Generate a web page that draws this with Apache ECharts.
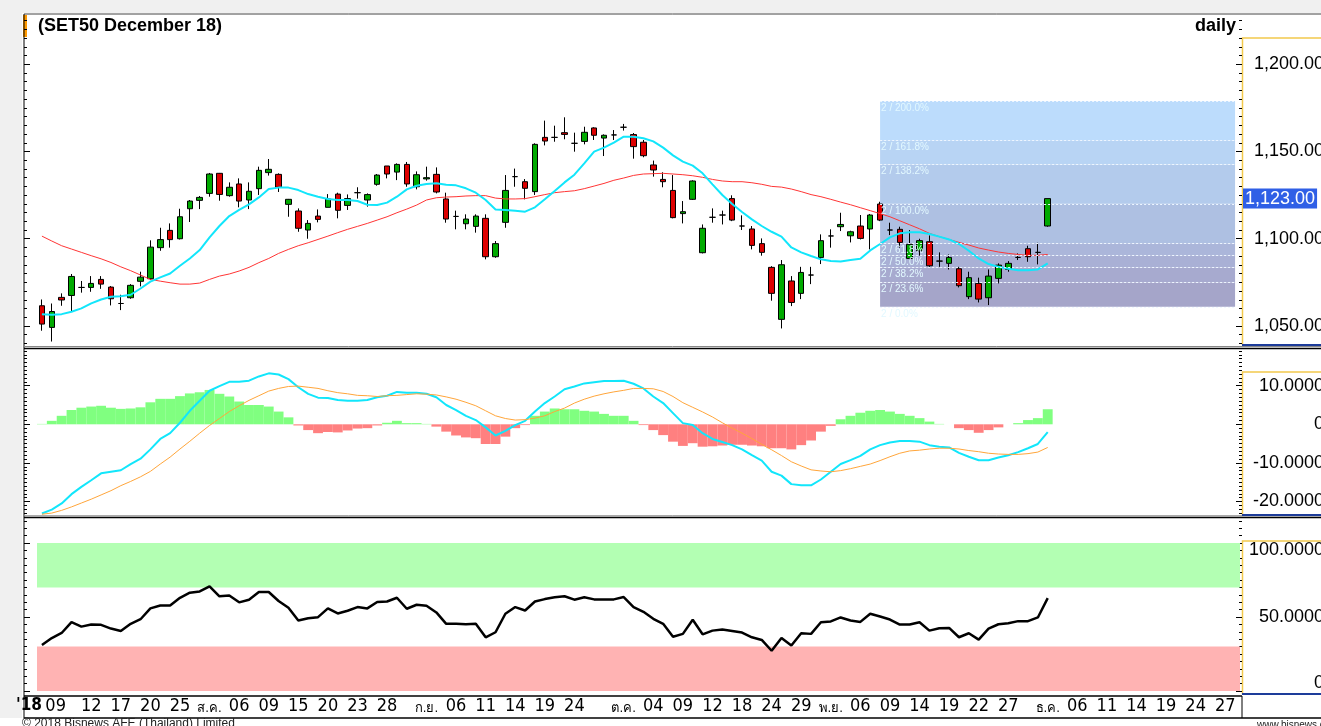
<!DOCTYPE html>
<html>
<head>
<meta charset="utf-8">
<title>SET50 December 18 - daily</title>
<script src="https://cdn.jsdelivr.net/npm/echarts@6/dist/echarts.min.js"></script>
<style>
  html, body { margin: 0; padding: 0; background: #fff; }
  #chart { width: 1321px; height: 726px; }
</style>
</head>
<body>
<div id="chart"></div>
<script>
// trading days shown on the axis (last 19 are empty future slots)
var dates = [
  '2018-07-05','2018-07-06','2018-07-09','2018-07-10','2018-07-11','2018-07-12','2018-07-13','2018-07-16','2018-07-17','2018-07-18',
  '2018-07-19','2018-07-20','2018-07-23','2018-07-24','2018-07-25','2018-07-26','2018-07-31','2018-08-01','2018-08-02','2018-08-03',
  '2018-08-06','2018-08-07','2018-08-08','2018-08-09','2018-08-10','2018-08-14','2018-08-15','2018-08-16','2018-08-17','2018-08-20',
  '2018-08-21','2018-08-22','2018-08-23','2018-08-24','2018-08-27','2018-08-28','2018-08-29','2018-08-30','2018-08-31','2018-09-03',
  '2018-09-04','2018-09-05','2018-09-06','2018-09-07','2018-09-10','2018-09-11','2018-09-12','2018-09-13','2018-09-14','2018-09-17',
  '2018-09-18','2018-09-19','2018-09-20','2018-09-21','2018-09-24','2018-09-25','2018-09-26','2018-09-27','2018-09-28','2018-10-01',
  '2018-10-02','2018-10-03','2018-10-04','2018-10-05','2018-10-08','2018-10-09','2018-10-10','2018-10-11','2018-10-12','2018-10-16',
  '2018-10-17','2018-10-18','2018-10-19','2018-10-22','2018-10-24','2018-10-25','2018-10-26','2018-10-29','2018-10-30','2018-10-31',
  '2018-11-01','2018-11-02','2018-11-05','2018-11-06','2018-11-07','2018-11-08','2018-11-09','2018-11-12','2018-11-13','2018-11-14',
  '2018-11-15','2018-11-16','2018-11-19','2018-11-20','2018-11-21','2018-11-22','2018-11-23','2018-11-26','2018-11-27','2018-11-28',
  '2018-11-29','2018-11-30','2018-12-03','2018-12-04','2018-12-05','2018-12-06','2018-12-07','2018-12-10','2018-12-11','2018-12-12',
  '2018-12-13','2018-12-14','2018-12-17','2018-12-18','2018-12-19','2018-12-20','2018-12-21','2018-12-24','2018-12-25','2018-12-26',
  '2018-12-27','2018-12-28'
];

var tickDates = ['2018-07-05','2018-07-09','2018-07-12','2018-07-17','2018-07-20','2018-07-25','2018-08-01','2018-08-06','2018-08-09','2018-08-15',
  '2018-08-20','2018-08-23','2018-08-28','2018-09-03','2018-09-06','2018-09-11','2018-09-14','2018-09-19','2018-09-24','2018-10-01',
  '2018-10-04','2018-10-09','2018-10-12','2018-10-18','2018-10-24','2018-10-29','2018-11-01','2018-11-06','2018-11-09','2018-11-14',
  '2018-11-19','2018-11-22','2018-11-27','2018-12-03','2018-12-06','2018-12-11','2018-12-14','2018-12-19','2018-12-24','2018-12-27'];
var tickTexts = ["'18",'09','12','17','20','25','ส.ค.','06','09','15',
  '20','23','28','ก.ย.','06','11','14','19','24','ต.ค.',
  '04','09','12','18','24','29','พ.ย.','06','09','14',
  '19','22','27','ธ.ค.','06','11','14','19','24','27'];

// [open, close, low, high]
var ohlc = [
  [1061.6,1051.1,1047.3,1065.2],[1049.2,1058.3,1041.1,1062.9],[1066.4,1064.9,1061.6,1068.7],[1067.5,1078.4,1058.2,1079.8],[1072.1,1072.1,1069.1,1075.8],
  [1072.1,1074.4,1069.6,1078.6],[1076.7,1074.0,1071.3,1078.6],[1072.3,1065.6,1061.8,1072.9],[1062.9,1062.9,1059.1,1067.9],[1066.2,1073.3,1065.6,1074.0],
  [1075.6,1078.0,1072.7,1081.1],[1077.1,1095.2,1076.3,1099.1],[1094.9,1099.5,1093.1,1106.3],[1104.8,1099.5,1094.9,1108.8],[1100.0,1112.6,1099.6,1117.2],
  [1117.2,1121.6,1109.6,1122.2],[1122.0,1123.7,1117.0,1124.5],[1126.0,1137.1,1124.1,1137.7],[1137.5,1125.4,1121.8,1137.7],[1124.7,1129.5,1124.1,1132.3],
  [1131.4,1121.6,1118.0,1134.6],[1122.2,1127.2,1117.0,1132.3],[1128.7,1139.2,1125.1,1141.3],[1137.9,1139.8,1136.2,1145.7],[1136.9,1129.5,1126.8,1137.5],
  [1119.7,1122.6,1112.6,1122.8],[1115.9,1106.0,1104.0,1117.4],[1105.0,1108.8,1100.0,1110.7],[1113.0,1111.1,1109.4,1116.8],[1118.0,1122.8,1118.0,1125.6],
  [1125.6,1116.3,1111.7,1126.4],[1119.1,1123.0,1116.5,1125.4],[1126.4,1126.4,1123.0,1129.5],[1122.2,1125.3,1118.4,1126.0],[1131.2,1136.5,1130.4,1137.1],
  [1141.7,1137.1,1134.6,1141.7],[1138.2,1142.6,1133.6,1143.2],[1142.6,1131.4,1129.8,1144.0],[1129.8,1136.7,1128.3,1138.6],[1134.3,1135.0,1133.3,1141.3],
  [1136.9,1126.8,1126.0,1140.9],[1122.8,1111.3,1109.2,1126.4],[1112.8,1112.8,1105.4,1116.1],[1108.6,1111.3,1105.4,1114.0],[1107.1,1113.0,1103.5,1114.0],
  [1111.7,1089.7,1088.2,1114.0],[1089.7,1097.2,1089.1,1098.7],[1109.4,1127.7,1106.3,1136.5],[1135.6,1135.6,1129.8,1140.2],[1132.7,1128.9,1122.6,1134.2],
  [1127.0,1154.1,1125.1,1154.7],[1158.1,1156.0,1153.5,1167.7],[1158.1,1158.1,1155.6,1164.8],[1160.8,1159.8,1157.0,1169.6],[1154.7,1154.7,1149.9,1160.8],
  [1155.8,1161.0,1154.1,1164.2],[1163.5,1159.3,1156.6,1163.9],[1157.7,1159.3,1147.4,1159.8],[1159.5,1159.5,1156.6,1162.3],[1163.9,1163.9,1162.0,1165.8],
  [1159.7,1152.8,1145.9,1160.6],[1155.3,1147.6,1146.7,1156.6],[1142.3,1139.4,1135.6,1144.8],[1134.0,1132.7,1129.5,1138.1],[1127.7,1112.1,1111.7,1136.5],
  [1114.4,1115.5,1108.8,1121.6],[1122.6,1133.1,1122.2,1133.5],[1092.0,1106.0,1091.6,1108.2],[1112.3,1112.3,1109.2,1117.4],[1113.6,1113.6,1108.2,1116.1],
  [1123.0,1110.7,1110.1,1124.9],[1107.3,1107.3,1105.0,1113.4],[1105.6,1096.2,1093.9,1107.3],[1097.2,1092.2,1090.3,1100.2],[1083.6,1068.7,1064.5,1084.3],
  [1053.8,1085.1,1048.6,1087.8],[1075.8,1063.5,1061.4,1078.6],[1068.7,1080.7,1065.4,1083.9],[1079.2,1079.2,1074.0,1083.9],[1089.3,1098.9,1085.5,1102.5],
  [1101.6,1101.6,1094.9,1105.4],[1106.9,1108.2,1104.4,1114.9],[1101.7,1104.0,1097.9,1104.6],[1107.3,1100.2,1099.6,1113.6],[1105.6,1113.6,1093.9,1114.2],
  [1119.9,1110.7,1110.1,1121.2],[1105.0,1105.0,1102.1,1109.2],[1105.4,1097.9,1094.9,1106.9],[1088.7,1096.8,1088.2,1105.0],[1093.1,1098.9,1090.3,1100.0],
  [1098.3,1084.5,1083.9,1101.9],[1087.2,1087.2,1083.9,1092.2],[1085.9,1089.3,1082.4,1091.0],[1082.8,1073.1,1072.1,1083.9],[1066.8,1077.7,1065.4,1081.1],
  [1074.4,1065.4,1063.5,1077.7],[1066.2,1078.6,1062.0,1082.4],[1077.3,1084.9,1074.4,1085.9],[1082.4,1085.9,1081.1,1087.2],[1089.3,1089.3,1087.8,1091.6],
  [1094.3,1089.7,1086.8,1096.0],[1092.2,1092.2,1085.3,1097.7],[1107.3,1123.0,1106.9,1123.0]
];

var maFast = [
  1056.8,1056.4,1056.8,1058.2,1060.1,1063.0,1065.2,1066.8,1067.1,1067.9,
  1071.5,1075.4,1077.9,1080.1,1084.5,1088.7,1093.5,1100.8,1107.3,1113.0,
  1116.5,1119.7,1123.7,1128.5,1129.3,1129.3,1127.9,1125.6,1124.1,1122.8,
  1122.2,1122.2,1121.6,1119.5,1119.3,1120.7,1124.1,1128.3,1130.4,1131.4,
  1131.8,1131.0,1130.6,1128.9,1126.4,1122.2,1116.8,1116.5,1116.1,1115.5,
  1118.0,1122.6,1127.4,1132.3,1136.7,1143.2,1149.9,1152.2,1155.1,1158.5,
  1158.5,1157.6,1155.8,1152.2,1147.8,1144.2,1141.9,1137.5,1131.2,1125.1,
  1119.9,1115.3,1111.1,1107.3,1104.0,1101.2,1095.0,1092.2,1090.1,1088.2,
  1087.2,1087.0,1087.8,1088.5,1093.3,1097.0,1100.8,1103.1,1103.7,1103.7,
  1102.7,1101.2,1099.6,1097.0,1093.1,1088.7,1085.5,1083.9,1082.8,1082.0,
  1082.0,1082.4,1085.9
];

var maSlow = [
  1101.5,1098.7,1096.0,1094.1,1092.2,1090.3,1088.5,1086.4,1083.9,1081.7,
  1079.2,1076.7,1075.7,1074.8,1074.0,1074.0,1074.6,1076.7,1078.6,1079.8,
  1081.5,1083.6,1086.3,1088.7,1091.6,1093.9,1096.0,1097.7,1099.6,1101.5,
  1103.5,1105.4,1107.1,1108.8,1110.7,1112.6,1114.9,1117.0,1119.3,1122.2,
  1123.5,1123.9,1124.1,1124.5,1124.7,1124.7,1123.3,1122.8,1122.8,1123.0,
  1124.1,1125.3,1126.4,1127.0,1127.5,1128.7,1130.2,1131.7,1133.5,1134.8,
  1136.3,1137.1,1137.3,1137.5,1137.1,1136.7,1136.1,1135.2,1134.0,1133.1,
  1132.7,1132.7,1132.1,1131.2,1130.0,1129.6,1128.5,1127.0,1125.3,1124.1,
  1122.6,1121.0,1119.5,1117.8,1116.1,1114.4,1112.6,1110.3,1108.0,1105.7,
  1103.1,1101.2,1099.6,1097.9,1096.4,1094.7,1093.5,1092.4,1091.6,1091.0,
  1090.5,1090.5,1091.0
];

var macdLine = [
  -23.1,-22.1,-20.5,-18.1,-16.2,-14.5,-12.7,-12.3,-11.9,-10.3,
  -8.9,-6.5,-3.8,-2.3,0.4,3.5,6.1,8.7,9.9,11.0,
  11.0,11.3,12.4,13.2,12.9,11.7,9.6,7.9,6.9,6.8,
  6.3,6.1,6.1,6.3,7.0,7.4,8.4,8.2,8.2,7.9,
  7.0,5.0,3.7,2.2,1.1,-0.8,-2.9,-1.7,-0.2,0.9,
  3.3,5.5,7.2,9.1,9.8,10.6,10.9,11.2,11.2,11.3,
  10.5,9.3,7.2,5.5,2.9,0.3,-0.2,-2.3,-3.8,-4.6,
  -5.4,-6.5,-8.0,-9.4,-12.3,-13.3,-15.5,-15.8,-15.8,-14.3,
  -12.3,-10.3,-9.3,-8.2,-6.5,-5.4,-4.7,-4.3,-4.3,-4.5,
  -5.4,-5.8,-6.0,-7.4,-8.4,-9.3,-9.3,-8.6,-8.0,-7.2,
  -6.2,-5.1,-2.0
];

var signalLine = [
  -23.3,-23.0,-22.3,-21.4,-20.4,-19.4,-18.3,-17.2,-15.9,-14.8,
  -13.6,-12.2,-10.3,-8.5,-6.4,-4.4,-2.3,-0.3,1.5,3.3,
  4.8,6.2,7.4,8.6,9.3,9.8,9.9,9.6,9.3,8.7,
  8.2,7.9,7.5,7.4,7.2,7.4,7.5,7.7,7.9,7.8,
  7.6,7.1,6.5,5.7,4.8,3.5,2.2,1.5,1.1,1.2,
  1.6,2.2,3.3,4.2,5.5,6.5,7.3,7.9,8.4,8.8,
  9.3,9.3,9.2,8.5,7.2,5.6,4.4,3.2,1.9,0.4,
  -1.0,-2.3,-3.7,-5.2,-6.6,-8.1,-9.7,-10.8,-11.8,-12.1,
  -12.3,-12.0,-11.5,-10.9,-10.3,-9.4,-8.4,-7.5,-6.9,-6.7,
  -6.4,-6.2,-6.2,-6.4,-6.8,-7.1,-7.5,-7.7,-7.8,-7.8,
  -7.6,-7.2,-6.0
];

var macdHist = [
  0.1,0.9,2.2,3.7,4.3,4.6,4.8,4.3,4.0,4.1,
  4.4,5.7,6.6,6.6,7.3,8.0,8.3,8.9,7.9,7.2,
  5.9,5.0,5.0,4.6,3.3,1.8,-0.3,-1.5,-2.3,-2.0,
  -2.1,-1.6,-1.1,-1.0,-0.3,0.4,0.9,0.3,0.3,0.1,
  -0.6,-1.9,-2.9,-3.4,-3.6,-5.1,-5.1,-3.2,-1.0,-0.2,
  2.2,3.3,4.1,3.9,3.9,3.5,3.3,2.7,2.2,2.2,
  0.9,-0.2,-1.5,-2.8,-4.5,-5.6,-4.9,-5.8,-5.7,-5.5,
  -5.3,-5.3,-5.5,-5.7,-6.2,-6.2,-6.5,-5.4,-4.2,-1.9,
  -0.4,1.3,2.2,3.0,3.5,3.7,3.3,2.7,2.2,1.6,
  0.7,0.1,0.0,-1.0,-1.5,-2.2,-1.5,-0.8,0.0,0.3,
  1.1,1.6,3.9
];

var rsi = [
  31.1,35.8,39.2,46.5,43.5,44.9,44.7,42.2,40.6,45.4,
  48.5,55.8,57.8,57.8,63.0,66.4,67.3,70.7,64.0,64.6,
  59.9,61.7,66.9,66.9,60.8,56.2,47.6,49.2,49.9,55.8,
  52.4,54.2,56.7,55.8,60.1,60.5,63.0,55.6,58.3,57.6,
  53.1,45.4,45.4,45.1,45.4,36.3,39.7,52.2,56.7,54.4,
  60.5,62.1,63.3,64.0,61.7,63.3,61.9,61.9,61.9,63.5,
  56.7,53.5,48.8,45.4,36.7,38.6,48.1,38.3,40.8,41.5,
  40.6,39.5,36.3,34.5,27.2,35.8,30.8,39.0,38.6,46.5,
  47.0,49.7,47.6,46.7,52.2,50.3,48.3,44.9,44.9,46.5,
  40.8,42.4,42.6,36.3,39.0,34.7,42.2,45.1,45.8,47.2,
  47.2,49.7,62.8
];

// fibonacci projection drawn from the 8 Nov high down to the late-Nov low
var fibLow = 1061;
var fibHigh = 1120;
var fibRatios = [0, 23.6, 38.2, 50, 61.8, 100, 138.2, 161.8, 200];
var fibColors = ['#a5a5c9', '#a7aacf', '#a9b0d5', '#abb6da', '#aec0e2', '#b3cbec', '#b8d4f4', '#bcdcfc'];
var fibFrom = '2018-11-08';
var fibTo = '2018-12-28';

var lastClose = ohlc[ohlc.length - 1][1];

var FONT = "'Liberation Sans', Arial, sans-serif";
var NARROW = "'Liberation Sans Narrow', 'Arial Narrow', 'DejaVu Sans Condensed', sans-serif";

var tickMap = {};
tickDates.forEach(function (d, i) { tickMap[d] = tickTexts[i]; });

function steps(from, to, step) {
  var out = [];
  for (var v = from; v <= to + 1e-9; v += step) out.push(Math.round(v * 100) / 100);
  return out;
}

// four value axes per panel: right labels + major ticks, right minor ticks, left major, left minor
function panelAxes(gi, min, max, majors, minors, fmt, rich) {
  function ax(extra) {
    return Object.assign({
      type: 'value', gridIndex: gi, min: min, max: max,
      splitLine: { show: false }, axisLine: { show: false },
      axisLabel: { show: false }
    }, extra);
  }
  return [
    ax({ position: 'right', offset: 2,
      axisTick: { show: true, inside: true, length: 6, customValues: majors, lineStyle: { color: '#000' } },
      axisLabel: { show: true, customValues: majors, formatter: fmt, align: 'right', margin: 82,
        fontSize: 18, fontFamily: FONT, color: '#000', rich: rich || {} } }),
    ax({ position: 'right', offset: 2,
      axisTick: { show: true, inside: true, length: 3, customValues: minors, lineStyle: { color: '#000' } } }),
    ax({ position: 'left', offset: 13,
      axisTick: { show: true, inside: true, length: 6, customValues: majors, lineStyle: { color: '#000' } } }),
    ax({ position: 'left', offset: 13,
      axisTick: { show: true, inside: true, length: 3, customValues: minors, lineStyle: { color: '#000' } } })
  ];
}

function catAxis(gi, withLabels) {
  var isTick = function (idx, val) { return tickMap.hasOwnProperty(val); };
  return {
    type: 'category', gridIndex: gi, data: dates, boundaryGap: true,
    axisLine: { show: false },
    axisTick: { show: withLabels, inside: true, length: 3, interval: isTick, alignWithLabel: true, lineStyle: { color: '#777' } },
    axisLabel: {
      show: withLabels, interval: isTick, margin: 1, showMinLabel: true, hideOverlap: false,
      alignMinLabel: 'right',
      fontSize: 18, fontFamily: NARROW, color: '#000',
      formatter: function (val) {
        var t = tickMap[val];
        if (!t) return '';
        if (t.charAt(0) === "'") return '{yr|' + t + '}';
        if (val === '2018-07-09') return '{sh|' + t + '}';
        if (/[\u0E00-\u0E7F]/.test(t)) return '{th|' + t + '}';
        return t;
      },
      rich: {
        yr: { fontSize: 17, fontWeight: 'bold', fontFamily: NARROW, color: '#000', padding: [0, 0, 0, 0] },
        sh: { fontSize: 18, fontFamily: NARROW, color: '#000', padding: [0, 12, 0, 0] },
        th: { fontSize: 13, color: '#000', padding: [5, 0, 0, 0] }
      }
    },
    splitLine: { show: false }
  };
}

var fibZones = [];
for (var z = 0; z < fibRatios.length - 1; z++) {
  fibZones.push([
    { xAxis: fibFrom, yAxis: fibLow + fibRatios[z] / 100 * (fibHigh - fibLow), itemStyle: { color: fibColors[z] } },
    { xAxis: fibTo, yAxis: fibLow + fibRatios[z + 1] / 100 * (fibHigh - fibLow) }
  ]);
}
var fibLines = fibRatios.map(function (r) {
  var y = fibLow + r / 100 * (fibHigh - fibLow);
  return [
    { coord: [fibFrom, y], label: { formatter: '2 / ' + r.toFixed(1) + '%' } },
    { coord: [fibTo, y] }
  ];
});

var priceFmt = function (v) {
  return v.toLocaleString('en-US', { minimumFractionDigits: 2, maximumFractionDigits: 2 });
};
var oscFmt = function (v) { return v === 0 ? '0' : v.toFixed(4); };
var rsiFmt = function (v) {
  if (v === 100) return '{hi|100.0000}';
  if (v === 0) return '{lo|0}';
  return v.toFixed(4);
};

var yAxes = []
  .concat(panelAxes(0, 1038.25, 1228.8, [1050, 1100, 1150, 1200], steps(1040, 1225, 5), priceFmt))
  .concat(panelAxes(1, -23.76, 19.64, [-20, -10, 0, 10], steps(-23, 19, 1), oscFmt))
  .concat(panelAxes(2, -3.38, 116.9, [0, 50, 100], steps(0, 115, 5), rsiFmt, {
    hi: { fontSize: 18, fontFamily: FONT, color: '#000', padding: [14, 0, 0, 0] },
    lo: { fontSize: 18, fontFamily: FONT, color: '#000', padding: [0, 0, 16, 0] }
  }));

var line = function (pts, color) {
  return { type: 'line', shape: { x1: pts[0], y1: pts[1], x2: pts[2], y2: pts[3] }, style: { stroke: color[0], lineWidth: color[1] }, silent: true };
};

var option = {
  animation: false,
  backgroundColor: '#ffffff',
  title: [
    { text: '(SET50 December 18)', left: 38, top: 17, padding: 0,
      textStyle: { fontSize: 18, fontWeight: 'bold', fontFamily: FONT, color: '#000' } },
    { text: 'daily', right: 85, top: 17, padding: 0,
      textStyle: { fontSize: 18, fontWeight: 'bold', fontFamily: FONT, color: '#000' } }
  ],
  grid: [
    { left: 37, right: 81, top: 14, height: 332.5, outerBoundsMode: 'none', containLabel: false },
    { left: 37, right: 81, top: 348.5, height: 167.5, outerBoundsMode: 'none', containLabel: false },
    { left: 37, right: 81, top: 518, height: 178, outerBoundsMode: 'none', containLabel: false }
  ],
  xAxis: [catAxis(0, false), catAxis(1, false), catAxis(2, true)],
  yAxis: yAxes,
  graphic: [
    { type: 'rect', shape: { x: 0, y: 0, width: 1321, height: 13 }, style: { fill: '#f0f0f0' }, silent: true },
    { type: 'rect', shape: { x: 0, y: 0, width: 22, height: 718 }, style: { fill: '#f0f0f0' }, silent: true },
    { type: 'rect', shape: { x: 23, y: 15, width: 4, height: 22 }, style: { fill: '#ff9a00' }, silent: true },
    line([24, 14, 1321, 14], ['#444', 1]),
    line([24, 14, 24, 718], ['#000', 1]),
    line([24, 346.5, 1321, 346.5], ['#888', 1]),
    line([24, 348.5, 1321, 348.5], ['#000', 1.5]),
    line([24, 515.8, 1321, 515.8], ['#888', 1]),
    line([24, 517.6, 1321, 517.6], ['#000', 1.5]),
    line([24, 696, 1242, 696], ['#000', 1.5]),
    line([24, 718, 1321, 718], ['#000', 1.5]),
    line([1242, 696, 1242, 718], ['#000', 1]),
    // axis boxes on the right
    { type: 'polyline', shape: { points: [[1321, 38], [1242.5, 38], [1242.5, 345]] }, style: { stroke: '#f2c94c', lineWidth: 1.5, fill: null }, silent: true },
    line([1242, 345, 1321, 345], ['#1d3c9a', 2]),
    { type: 'polyline', shape: { points: [[1321, 372], [1242.5, 372], [1242.5, 515]] }, style: { stroke: '#f2c94c', lineWidth: 1.5, fill: null }, silent: true },
    line([1242, 515, 1321, 515], ['#1d3c9a', 2]),
    { type: 'polyline', shape: { points: [[1321, 541], [1242.5, 541], [1242.5, 694]] }, style: { stroke: '#f2c94c', lineWidth: 1.5, fill: null }, silent: true },
    line([1242, 694, 1321, 694], ['#1d3c9a', 2]),
    { type: 'text', x: 22, y: 718, style: { text: '\u00A9 2018 Bisnews AFE (Thailand) Limited', fontSize: 12, fontFamily: FONT, fill: '#222' }, silent: true },
    { type: 'text', x: 1257, y: 720, style: { text: 'www.bisnews.com', fontSize: 10, fontFamily: FONT, fill: '#222' }, silent: true }
  ],
  series: [
    {
      name: 'fib', type: 'line', xAxisIndex: 0, yAxisIndex: 0, data: [], silent: true,
      markArea: { silent: true, data: fibZones },
      markLine: {
        silent: true, symbol: ['none', 'none'],
        lineStyle: { color: '#eef6ff', width: 1, type: [2, 2] },
        label: { position: 'insideStartBottom', distance: [1, 2], fontSize: 10, fontFamily: FONT, color: '#e2f8ff' },
        data: fibLines
      }
    },
    {
      name: 'SET50 Dec 18', type: 'candlestick', xAxisIndex: 0, yAxisIndex: 0, data: ohlc, barWidth: 6,
      itemStyle: { color: '#00aa00', color0: '#dd0000', borderColor: '#000', borderColor0: '#000', borderColorDoji: '#000', borderWidth: 1 },
      markLine: {
        silent: true, symbol: ['none', 'none'],
        lineStyle: { color: 'rgba(0,0,0,0)', width: 0 },
        label: { show: true, position: 'end', distance: 3, formatter: priceFmt(lastClose), fontSize: 18, fontFamily: FONT,
          color: '#fff', backgroundColor: '#2f5fe6', padding: [1, 2, 1, 2] },
        data: [{ yAxis: lastClose }]
      }
    },
    { name: 'MA slow', type: 'line', xAxisIndex: 0, yAxisIndex: 0, data: maSlow, symbol: 'none',
      lineStyle: { color: '#ff3535', width: 1 } },
    { name: 'MA fast', type: 'line', xAxisIndex: 0, yAxisIndex: 0, data: maFast, symbol: 'none',
      lineStyle: { color: '#12e6fb', width: 2 } },

    { name: 'MACD hist', type: 'bar', xAxisIndex: 1, yAxisIndex: 4, data: macdHist, barCategoryGap: '0%',
      itemStyle: { color: function (p) { return p.value >= 0 ? '#80ff80' : '#ff8080'; } } },
    { name: 'MACD', type: 'line', xAxisIndex: 1, yAxisIndex: 4, data: macdLine, symbol: 'none',
      lineStyle: { color: '#12e6fb', width: 2 } },
    { name: 'Signal', type: 'line', xAxisIndex: 1, yAxisIndex: 4, data: signalLine, symbol: 'none',
      lineStyle: { color: '#ffa53a', width: 1 } },

    { name: 'RSI zones', type: 'line', xAxisIndex: 2, yAxisIndex: 8, data: [], silent: true,
      markArea: { silent: true, data: [
        [{ yAxis: 70, itemStyle: { color: '#b3ffb3' } }, { yAxis: 100 }],
        [{ yAxis: 0, itemStyle: { color: '#ffb3b3' } }, { yAxis: 30 }]
      ] } },
    { name: 'RSI', type: 'line', xAxisIndex: 2, yAxisIndex: 8, data: rsi, symbol: 'none',
      lineStyle: { color: '#000', width: 2.5 } }
  ]
};

var chart = echarts.init(document.getElementById('chart'));
chart.setOption(option);
</script>
</body>
</html>
